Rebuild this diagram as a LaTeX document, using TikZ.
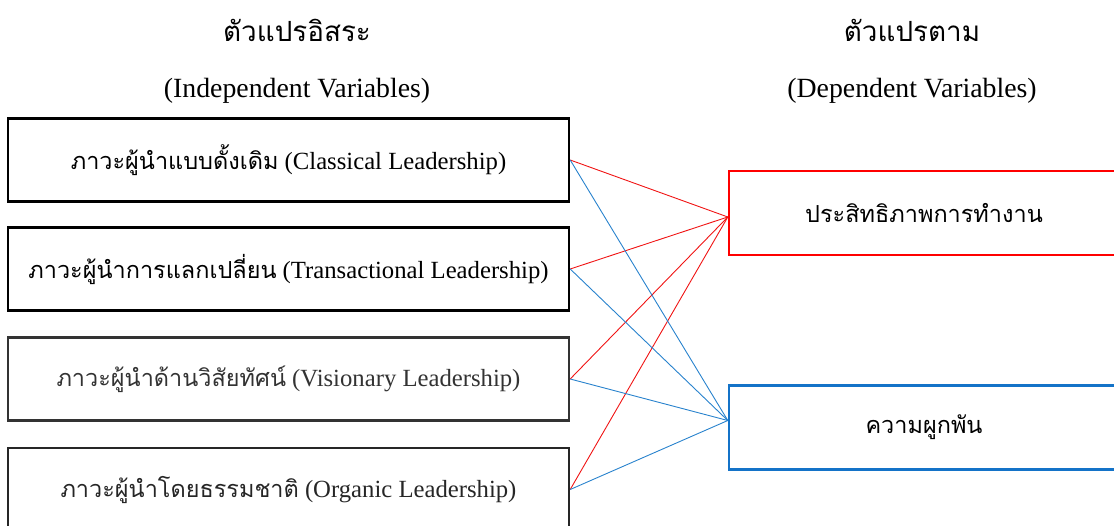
\documentclass[tikz,border=0pt]{standalone}
\usepackage{fontspec}
\setmainfont{Liberation Serif}
\newfontfamily\thaifont[Script=Thai,Scale=0.95]{Loma}
\newfontfamily\thaihead[Script=Thai,Scale=1.0]{Loma}
\definecolor{linkred}{RGB}{240,20,20}
\definecolor{linkblue}{RGB}{40,130,205}
\definecolor{boxblue}{RGB}{20,115,200}
\newcommand{\thtext}[1]{{\thaifont #1}}
\newcommand{\thhead}[1]{{\thaihead #1}}
\begin{document}
\begin{tikzpicture}[x=1pt,y=-1pt,
  heading/.style={font=\fontsize{27.8}{32}\selectfont, inner sep=0pt},
  leftbox/.style={draw=black, line width=2.4pt, minimum width=561pt, minimum height=83pt,
    inner sep=0pt, font=\fontsize{24.7}{29}\selectfont},
  rightbox/.style={line width=2.4pt, minimum width=390pt, minimum height=84pt,
    inner sep=0pt, font=\fontsize{24.7}{29}\selectfont},
  redlink/.style={draw=linkred, line width=0.9pt},
  bluelink/.style={draw=linkblue, line width=0.9pt}]
\useasboundingbox (0,0) rectangle (1114,526);

% column headings
\node[heading] (indth) at (297,30) {\thhead{ตัวแปรอิสระ}};
\node[heading] (inden) at (297,91) {(Independent Variables)};
\node[heading] (depth) at (912,30) {\thhead{ตัวแปรตาม}};
\node[heading] (depen) at (912,91) {(Dependent Variables)};

% independent variables
\node[leftbox] (classic) at (288.5,160) {\thtext{ภาวะผู้นำแบบดั้งเดิม} (Classical Leadership)};
\node[leftbox] (transact) at (288.5,269) {\thtext{ภาวะผู้นำการแลกเปลี่ยน} (Transactional Leadership)};
\node[leftbox, draw=black!80, text=black!80] (vision) at (288.5,379) {\thtext{ภาวะผู้นำด้านวิสัยทัศน์} (Visionary Leadership)};
\node[leftbox, draw=black!85, text=black!85] (organic) at (288.5,489.5) {\thtext{ภาวะผู้นำโดยธรรมชาติ} (Organic Leadership)};

% dependent variables
\node[rightbox, draw=red] (perf) at (924,213) {\thtext{ประสิทธิภาพการทำงาน}};
\node[rightbox, draw=boxblue] (engage) at (924,427.5) {\thtext{ความผูกพัน}};

% links to work performance
\foreach \src in {classic,transact,vision,organic}
  \draw[redlink] (\src.east) -- ([yshift=-4pt]perf.west);
% links to engagement
\foreach \src in {classic,transact,vision,organic}
  \draw[bluelink] (\src.east) -- ([yshift=7pt]engage.west);
\end{tikzpicture}
\end{document}
